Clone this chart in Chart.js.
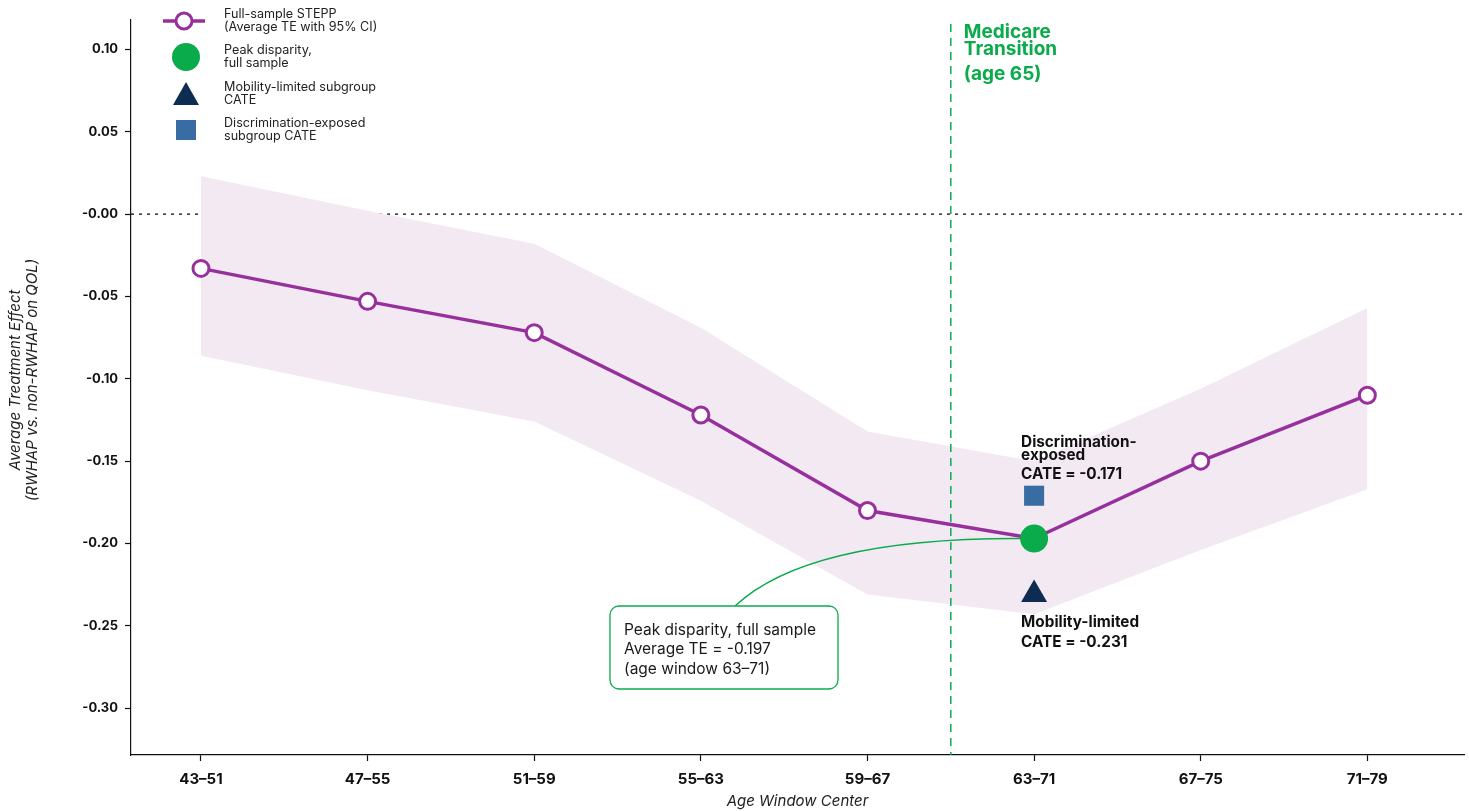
<!DOCTYPE html>
<html>
<head>
<meta charset="utf-8">
<title>STEPP: Average Treatment Effect by Age Window</title>
<script src="https://cdn.jsdelivr.net/npm/chart.js@4.4.1/dist/chart.umd.min.js"></script>
<style>
  html, body { margin: 0; padding: 0; background: #ffffff; }
  #wrap { position: relative; width: 1469px; height: 811px; }
</style>
</head>
<body>
<div id="wrap"><canvas id="chart" width="1469" height="811"></canvas></div>
<script>
// Age windows (x categories)
const ageWindows = ['43–51', '47–55', '51–59', '55–63', '59–67', '63–71', '67–75', '71–79'];
// Full-sample STEPP average treatment effect per age window
const steppTE = [-0.033, -0.053, -0.072, -0.122, -0.180, -0.197, -0.150, -0.110];
// 95% confidence band
const ciUpper = [0.023, 0.002, -0.018, -0.069, -0.132, -0.150, -0.106, -0.057];
const ciLower = [-0.086, -0.107, -0.126, -0.174, -0.231, -0.243, -0.204, -0.167];
// Peak disparity and subgroup CATEs at the 63–71 window
const peakIndex = 5;
const peakTE = -0.197;
const mobilityCATE = -0.231;
const discriminationCATE = -0.171;
// Medicare transition (age 65) sits between the 59–67 and 63–71 windows
const medicarePosition = 4.5;
// Y-axis ticks
const yTickValues = [0.10, 0.05, 0.00, -0.05, -0.10, -0.15, -0.20, -0.25, -0.30];
const yTickLabels = ['0.10', '0.05', '-0.00', '-0.05', '-0.10', '-0.15', '-0.20', '-0.25', '-0.30'];

const PURPLE = '#972f9d';
const BAND = '#f3e9f3';
const GREEN = '#0aab4b';
const NAVY = '#0e2c52';
const STEEL = '#3a6ca4';
const FONT = 'Inter, "Noto Sans", "Liberation Sans", sans-serif';

const toXY = (arr) => arr.map((v, i) => ({ x: i, y: v }));

const overlay = {
  id: 'overlay',
  beforeDatasetsDraw(chart) {
    const { ctx, chartArea, scales } = chart;
    const y0 = scales.y.getPixelForValue(0);
    ctx.save();
    ctx.strokeStyle = '#000';
    ctx.lineWidth = 1.2;
    ctx.setLineDash([3, 5]);
    ctx.beginPath();
    ctx.moveTo(chartArea.left, y0);
    ctx.lineTo(chartArea.right, y0);
    ctx.stroke();
    ctx.restore();
  },
  beforeDatasetDraw(chart, args) {
    if (args.index !== 2) return;
    const { ctx, chartArea, scales } = chart;
    const xs = scales.x, ys = scales.y;
    // Medicare transition marker
    const xm = xs.getPixelForValue(medicarePosition);
    ctx.save();
    ctx.strokeStyle = GREEN;
    ctx.lineWidth = 1.5;
    ctx.setLineDash([8, 6]);
    ctx.beginPath();
    ctx.moveTo(xm, chartArea.top + 4);
    ctx.lineTo(xm, chartArea.bottom);
    ctx.stroke();
    ctx.restore();
    // Connector from the peak callout to the peak point
    const px = xs.getPixelForValue(peakIndex);
    const py = ys.getPixelForValue(peakTE);
    ctx.save();
    ctx.strokeStyle = GREEN;
    ctx.lineWidth = 1.5;
    ctx.beginPath();
    ctx.moveTo(735, 606);
    ctx.quadraticCurveTo(810, py - 3, px, py);
    ctx.stroke();
    ctx.restore();
  },
  afterDatasetsDraw(chart) {
    const { ctx, chartArea, scales } = chart;
    const xs = scales.x;
    const xm = xs.getPixelForValue(medicarePosition);
    ctx.save();
    ctx.textBaseline = 'middle';
    ctx.textAlign = 'left';

    // Medicare label
    ctx.fillStyle = GREEN;
    ctx.font = '700 19px ' + FONT;
    ctx.fillText('Medicare', xm + 13, 32);
    ctx.fillText('Transition', xm + 13, 49);
    ctx.fillText('(age 65)', xm + 13, 74);

    // Subgroup labels
    const px = xs.getPixelForValue(peakIndex);
    ctx.fillStyle = '#111';
    ctx.font = '700 15.3px ' + FONT;
    ctx.fillText('Discrimination-', px - 13, 442);
    ctx.fillText('exposed', px - 13, 455);
    ctx.fillText('CATE = -0.171', px - 13, 474);
    ctx.fillText('Mobility-limited', px - 13, 622);
    ctx.fillText('CATE = -0.231', px - 13, 642);

    // Peak callout box
    const bx = 610, by = 606, bw = 228, bh = 83, r = 9;
    ctx.beginPath();
    ctx.moveTo(bx + r, by);
    ctx.lineTo(bx + bw - r, by);
    ctx.arcTo(bx + bw, by, bx + bw, by + r, r);
    ctx.lineTo(bx + bw, by + bh - r);
    ctx.arcTo(bx + bw, by + bh, bx + bw - r, by + bh, r);
    ctx.lineTo(bx + r, by + bh);
    ctx.arcTo(bx, by + bh, bx, by + bh - r, r);
    ctx.lineTo(bx, by + r);
    ctx.arcTo(bx, by, bx + r, by, r);
    ctx.closePath();
    ctx.fillStyle = '#ffffff';
    ctx.fill();
    ctx.strokeStyle = GREEN;
    ctx.lineWidth = 1.3;
    ctx.stroke();
    ctx.fillStyle = '#1a1a1a';
    ctx.font = '400 15.5px ' + FONT;
    ctx.fillText('Peak disparity, full sample', bx + 14, 630);
    ctx.fillText('Average TE = -0.197', bx + 14, 649);
    ctx.fillText('(age window 63–71)', bx + 14, 669);

    // Legend
    ctx.font = '400 12.6px ' + FONT;
    ctx.fillStyle = '#222';
    ctx.strokeStyle = PURPLE;
    ctx.lineWidth = 3.5;
    ctx.beginPath();
    ctx.moveTo(163, 21); ctx.lineTo(205, 21);
    ctx.stroke();
    ctx.beginPath();
    ctx.arc(184, 21, 8, 0, Math.PI * 2);
    ctx.fillStyle = '#fff';
    ctx.fill();
    ctx.lineWidth = 3;
    ctx.stroke();
    ctx.fillStyle = '#222';
    ctx.fillText('Full-sample STEPP', 224, 14);
    ctx.fillText('(Average TE with 95% CI)', 224, 27);

    ctx.beginPath();
    ctx.arc(186, 57, 14, 0, Math.PI * 2);
    ctx.fillStyle = GREEN;
    ctx.fill();
    ctx.fillStyle = '#222';
    ctx.fillText('Peak disparity,', 224, 50);
    ctx.fillText('full sample', 224, 63);

    ctx.beginPath();
    ctx.moveTo(186, 82); ctx.lineTo(199, 105); ctx.lineTo(173, 105);
    ctx.closePath();
    ctx.fillStyle = NAVY;
    ctx.fill();
    ctx.fillStyle = '#222';
    ctx.fillText('Mobility-limited subgroup', 224, 87);
    ctx.fillText('CATE', 224, 100);

    ctx.fillStyle = STEEL;
    ctx.fillRect(176, 120, 20, 20);
    ctx.fillStyle = '#222';
    ctx.fillText('Discrimination-exposed', 224, 123);
    ctx.fillText('subgroup CATE', 224, 136);

    // Axis titles
    ctx.font = 'italic 400 15px ' + FONT;
    ctx.fillStyle = '#222';
    ctx.textAlign = 'center';
    ctx.fillText('Age Window Center', (chartArea.left + chartArea.right) / 2, 801);
    ctx.save();
    ctx.translate(15, 380);
    ctx.rotate(-Math.PI / 2);
    ctx.fillText('Average Treatment Effect', 0, 0);
    ctx.fillText('(RWHAP vs. non-RWHAP on QOL)', 0, 17);
    ctx.restore();

    ctx.restore();
  }
};

new Chart(document.getElementById('chart'), {
  type: 'line',
  data: {
    datasets: [
      {
        label: 'CI upper',
        data: toXY(ciUpper),
        borderWidth: 0,
        borderColor: 'rgba(0,0,0,0)',
        backgroundColor: BAND,
        pointRadius: 0,
        fill: 1,
        order: 10
      },
      {
        label: 'CI lower',
        data: toXY(ciLower),
        borderWidth: 0,
        borderColor: 'rgba(0,0,0,0)',
        pointRadius: 0,
        fill: false,
        order: 11
      },
      {
        label: 'Full-sample STEPP',
        data: toXY(steppTE),
        borderColor: PURPLE,
        borderWidth: 3.5,
        pointRadius: 8,
        pointBorderWidth: 3,
        pointBackgroundColor: '#ffffff',
        pointBorderColor: PURPLE,
        fill: false,
        order: 5
      },
      {
        label: 'Peak disparity, full sample',
        data: [{ x: peakIndex, y: peakTE }],
        showLine: false,
        pointRadius: 14,
        pointBorderWidth: 0,
        pointBackgroundColor: GREEN,
        pointBorderColor: GREEN,
        order: 2
      },
      {
        label: 'Mobility-limited subgroup CATE',
        data: [{ x: peakIndex, y: mobilityCATE }],
        showLine: false,
        pointStyle: 'triangle',
        pointRadius: 15,
        pointBorderWidth: 0,
        pointBackgroundColor: NAVY,
        pointBorderColor: NAVY,
        order: 1
      },
      {
        label: 'Discrimination-exposed subgroup CATE',
        data: [{ x: peakIndex, y: discriminationCATE }],
        showLine: false,
        pointStyle: 'rect',
        pointRadius: 14.2,
        pointBorderWidth: 0,
        pointBackgroundColor: STEEL,
        pointBorderColor: STEEL,
        order: 1
      }
    ]
  },
  options: {
    responsive: false,
    animation: false,
    events: [],
    layout: { autoPadding: false, padding: { top: 20, right: 5, left: 0, bottom: 0 } },
    plugins: { legend: { display: false }, tooltip: { enabled: false } },
    scales: {
      x: {
        type: 'linear',
        min: -0.42,
        max: 7.58,
        afterFit(scale) {
          scale.height = 56;
          scale.paddingLeft = 0;
          scale.paddingRight = 0;
        },
        afterBuildTicks(scale) { scale.ticks = ageWindows.map((_, i) => ({ value: i })); },
        ticks: {
          autoSkip: false,
          maxRotation: 0,
          padding: 9,
          color: '#111',
          font: { family: FONT, size: 15, weight: '700' },
          callback: (v) => ageWindows[v]
        },
        grid: { drawOnChartArea: false, drawTicks: true, tickLength: 6, tickColor: '#111', tickWidth: 1.2 },
        border: { display: true, color: '#111', width: 1.2 }
      },
      y: {
        type: 'linear',
        min: -0.3284,
        max: 0.1178,
        afterFit(scale) {
          scale.width = 131;
          scale.paddingTop = 0;
          scale.paddingBottom = 0;
        },
        afterBuildTicks(scale) { scale.ticks = yTickValues.map((v) => ({ value: v })); },
        ticks: {
          padding: 7,
          color: '#111',
          font: { family: FONT, size: 13, weight: '700' },
          callback: (v) => yTickLabels[yTickValues.findIndex((t) => Math.abs(t - v) < 1e-9)]
        },
        grid: { drawOnChartArea: false, drawTicks: true, tickLength: 6, tickColor: '#111', tickWidth: 1.2 },
        border: { display: true, color: '#111', width: 1.2 }
      }
    }
  },
  plugins: [overlay]
});
</script>
</body>
</html>
